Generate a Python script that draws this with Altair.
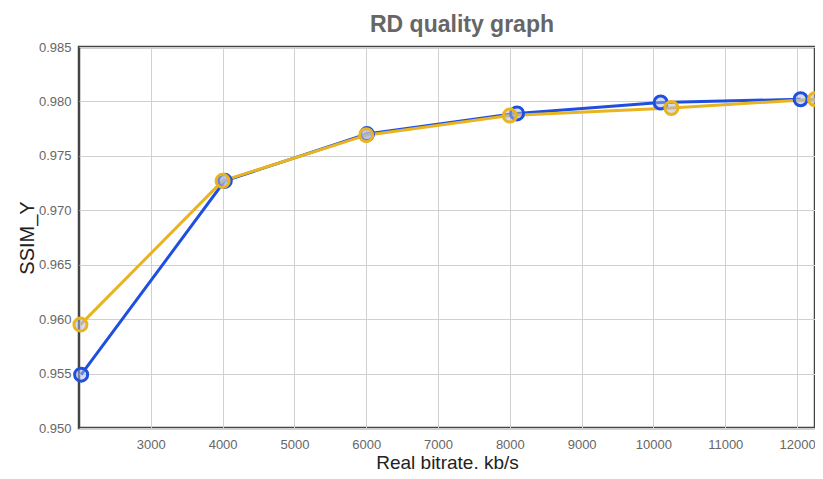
import altair as alt
import pandas as pd

blue_x = [2030, 4030, 6010, 8100, 10100, 12050]
blue_y = [0.9549, 0.9727, 0.9770, 0.9789, 0.9799, 0.9802]
gold_x = [2020, 4000, 6000, 8000, 10250, 12250]
gold_y = [0.9595, 0.9727, 0.9769, 0.9787, 0.9794, 0.9802]
x_ticks = [3000, 4000, 5000, 6000, 7000, 8000, 9000, 10000, 11000, 12000]
y_ticks = [0.950, 0.955, 0.960, 0.965, 0.970, 0.975, 0.980, 0.985]

df = pd.concat([
    pd.DataFrame({"x": blue_x, "y": blue_y, "s": "A"}),
    pd.DataFrame({"x": gold_x, "y": gold_y, "s": "B"}),
])

color = alt.Color("s:N", scale=alt.Scale(domain=["A", "B"], range=["#1f4fdf", "#e8b420"]), legend=None)
x = alt.X("x:Q", scale=alt.Scale(domain=[2000, 12250], nice=False, zero=False),
          axis=alt.Axis(values=x_ticks, title="Real bitrate. kb/s", format="d",
                        titleY=40, titleBaseline="alphabetic", titleFontSize=19))
y = alt.Y("y:Q", scale=alt.Scale(domain=[0.95, 0.985], nice=False, zero=False),
          axis=alt.Axis(values=y_ticks, title="SSIM_Y", format=".3f",
                        titleX=-46, titleBaseline="alphabetic"))

lines = alt.Chart(df).mark_line(strokeWidth=3).encode(x=x, y=y, color=color, order=alt.Order("x:Q"), detail="s:N")
pts = alt.Chart(df).mark_point(size=170, strokeWidth=3, filled=False, fill="#aab8e8", fillOpacity=0.5).encode(
    x="x:Q", y="y:Q", color=color)

chart = alt.layer(lines, pts).properties(
    width=736, height=381,
    title=alt.TitleParams("RD quality graph", fontSize=23, fontWeight="bold", color="#666666",
                          font="Liberation Sans", offset=4, dx=15),
    autosize=alt.AutoSizeParams(type="none"),
    padding={"left": 71, "top": 39, "right": 0, "bottom": 43},
).configure_view(stroke="#444444", strokeWidth=2.5).configure_axis(
    labelFont="Liberation Sans", labelFontSize=13, labelColor="#666666",
    titleFont="Liberation Sans", titleFontSize=20, titleFontWeight="normal", titleColor="#222222",
    gridColor="#d0d0d0", domain=False, ticks=False,
).configure_axisY(labelPadding=8).configure_axisX(labelPadding=10)

chart.save("out.html", embed_options={"renderer": "svg", "actions": False})
